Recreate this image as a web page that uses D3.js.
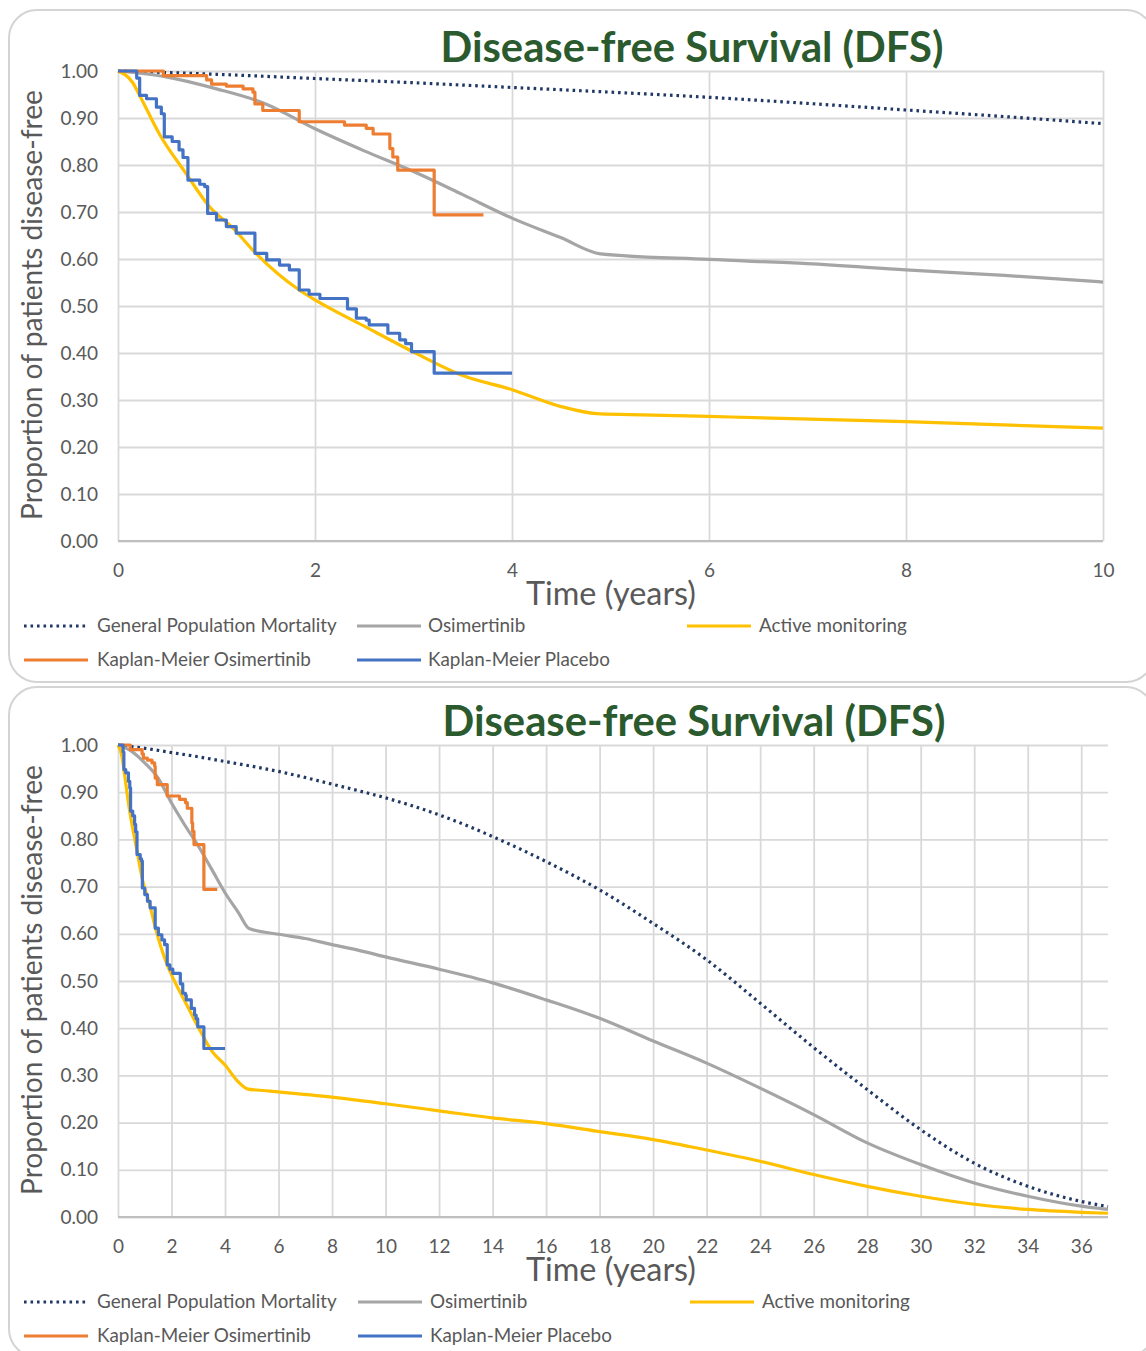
<!DOCTYPE html>
<html>
<head>
<meta charset="utf-8">
<script src="https://cdn.jsdelivr.net/npm/d3@7"></script>
<style>
  body { margin: 0; background: #fff; }
  svg { display: block; font-family: Lato, "Open Sans", sans-serif; }
</style>
</head>
<body>
<svg id="chart" width="1146" height="1351"></svg>
<script>
// General population mortality (model)
const gpTime = [0, 1, 2, 3, 4, 5, 6, 7, 8, 9, 10, 12, 14, 16, 18, 20, 22, 24, 26, 28, 30, 32, 34, 36, 37];
const gpSurv = [1.0, 0.993, 0.984, 0.975, 0.965, 0.955, 0.944, 0.931, 0.917, 0.903, 0.888, 0.852, 0.806, 0.753, 0.693, 0.622, 0.545, 0.453, 0.359, 0.27, 0.185, 0.114, 0.065, 0.033, 0.022];

// Osimertinib (model)
const osiTime = [0, 0.5, 1.0, 1.5, 2, 2.5, 3, 3.5, 4, 4.5, 4.9, 6, 7, 8, 9, 10, 12, 14, 16, 18, 20, 22, 24, 26, 28, 30, 32, 34, 36, 37];
const osiSurv = [1.0, 0.987, 0.962, 0.93, 0.877, 0.83, 0.786, 0.737, 0.687, 0.645, 0.611, 0.599, 0.59, 0.577, 0.565, 0.551, 0.525, 0.496, 0.46, 0.421, 0.373, 0.326, 0.273, 0.217, 0.157, 0.111, 0.072, 0.044, 0.023, 0.016];

// Active monitoring (model)
const amTime = [0, 0.15, 0.22, 0.42, 0.69, 0.93, 1.17, 1.4, 1.84, 2.0, 2.5, 3.0, 3.5, 4.0, 4.5, 4.86, 5.2, 6, 8, 10, 12, 14, 16, 18, 20, 22, 24, 26, 28, 30, 32, 34, 36, 37];
const amSurv = [1.0, 0.975, 0.948, 0.866, 0.782, 0.711, 0.665, 0.612, 0.534, 0.513, 0.457, 0.402, 0.352, 0.322, 0.286, 0.271, 0.269, 0.265, 0.254, 0.24, 0.225, 0.21, 0.198, 0.181, 0.164, 0.142, 0.118, 0.09, 0.065, 0.044, 0.027, 0.016, 0.01, 0.008];

// Kaplan-Meier Osimertinib (steps)
const kmOsiTime = [0, 0.46, 0.9, 0.95, 1.1, 1.27, 1.37, 1.39, 1.47, 1.84, 2.3, 2.52, 2.59, 2.76, 2.79, 2.84, 3.21, 3.71];
const kmOsiSurv = [1.0, 0.99, 0.981, 0.972, 0.968, 0.962, 0.955, 0.93, 0.916, 0.892, 0.885, 0.878, 0.866, 0.835, 0.817, 0.789, 0.694, 0.694];

// Kaplan-Meier Placebo (steps)
const kmPlaTime = [0, 0.19, 0.22, 0.29, 0.39, 0.44, 0.47, 0.55, 0.62, 0.66, 0.71, 0.83, 0.88, 0.91, 1.0, 1.1, 1.2, 1.39, 1.51, 1.64, 1.74, 1.84, 1.94, 2.05, 2.33, 2.42, 2.52, 2.55, 2.74, 2.86, 2.92, 2.98, 3.21, 4.0];
const kmPlaSurv = [1.0, 0.985, 0.948, 0.941, 0.923, 0.909, 0.86, 0.85, 0.832, 0.816, 0.768, 0.759, 0.754, 0.697, 0.683, 0.669, 0.655, 0.612, 0.598, 0.587, 0.577, 0.534, 0.525, 0.516, 0.494, 0.474, 0.47, 0.46, 0.442, 0.428, 0.42, 0.403, 0.357, 0.357];

const yTicks = [0, 0.1, 0.2, 0.3, 0.4, 0.5, 0.6, 0.7, 0.8, 0.9, 1.0];
const topXTicks = [0, 2, 4, 6, 8, 10];
const bottomXTicks = [0, 2, 4, 6, 8, 10, 12, 14, 16, 18, 20, 22, 24, 26, 28, 30, 32, 34, 36];

const titleText = "Disease-free Survival (DFS)";
const yLabel = "Proportion of patients disease-free";
const xLabel = "Time (years)";

const series = [
  { name: "General Population Mortality", t: gpTime, s: gpSurv, color: "#203864", dash: "2.6,3.9", step: false },
  { name: "Osimertinib", t: osiTime, s: osiSurv, color: "#a5a5a5", step: false },
  { name: "Active monitoring", t: amTime, s: amSurv, color: "#ffc000", step: false },
  { name: "Kaplan-Meier Osimertinib", t: kmOsiTime, s: kmOsiSurv, color: "#ed7d31", step: true },
  { name: "Kaplan-Meier Placebo", t: kmPlaTime, s: kmPlaSurv, color: "#4472c4", step: true }
];

const textGray = "#595959";
const gridColor = "#d9d9d9";
const svg = d3.select("#chart");

const fitFont = (sel, base, target) => {
  sel.style("font-size", base + "px");
  const w = sel.node().getComputedTextLength();
  const size = base * target / w;
  sel.style("font-size", size + "px");
  return size;
};

const panels = [
  {
    box: [9, 10, 1145, 672],
    xMax: 10, xTicks: topXTicks,
    plot: { left: 118, right: 1103, top: 71, bottom: 541 },
    titleX: 692, titleY: 62, axisTitleY: 605, yLabelY: 305,
    legend: [[24, 626, 97], [357, 626, 428], [687, 626, 759], [24, 660, 97], [357, 660, 428]]
  },
  {
    box: [9, 687, 1145, 670],
    xMax: 37, xTicks: bottomXTicks,
    plot: { left: 118, right: 1108, top: 745, bottom: 1217 },
    titleX: 694, titleY: 736, axisTitleY: 1281, yLabelY: 980,
    legend: [[24, 1302, 97], [358, 1302, 430], [690, 1302, 762], [24, 1336, 97], [358, 1336, 430]]
  }
];

panels.forEach(p => {
  const [bx, by, bw, bh] = p.box;
  svg.append("rect")
    .attr("x", bx).attr("y", by)
    .attr("width", bw).attr("height", bh)
    .attr("rx", 28).attr("ry", 28)
    .attr("fill", "#fff")
    .attr("stroke", "#d4d4d4")
    .attr("stroke-width", 2);

  const x = d3.scaleLinear().domain([0, p.xMax]).range([p.plot.left, p.plot.right]);
  const y = d3.scaleLinear().domain([0, 1]).range([p.plot.bottom, p.plot.top]);
  const w = p.plot.right - p.plot.left;
  const h = p.plot.bottom - p.plot.top;

  const g = svg.append("g");

  // horizontal grid + y labels
  const yAxis = g.append("g")
    .attr("transform", `translate(${p.plot.left},0)`)
    .call(d3.axisLeft(y).tickValues(yTicks).tickFormat(d3.format(".2f")).tickSize(-w).tickPadding(20));
  yAxis.select(".domain").remove();
  yAxis.selectAll("line").attr("stroke", gridColor).attr("stroke-width", 1.8);
  yAxis.selectAll("text").attr("fill", textGray).style("font-size", "19px").style("font-family", "Lato, sans-serif");

  // vertical grid + x labels
  const xAxis = g.append("g")
    .attr("transform", `translate(0,${p.plot.bottom})`)
    .call(d3.axisBottom(x).tickValues(p.xTicks).tickSize(-h).tickPadding(23));
  xAxis.select(".domain").remove();
  xAxis.selectAll("line").attr("stroke", gridColor).attr("stroke-width", 1.8);
  xAxis.selectAll("text").attr("fill", textGray).style("font-size", "19px").style("font-family", "Lato, sans-serif");

  // bottom axis line
  g.append("line")
    .attr("x1", p.plot.left).attr("x2", p.plot.right)
    .attr("y1", y(0)).attr("y2", y(0))
    .attr("stroke", "#bfbfbf").attr("stroke-width", 2.2);

  // series
  series.forEach(s => {
    const pts = d3.zip(s.t, s.s).filter(d => d[0] <= p.xMax);
    const line = d3.line()
      .x(d => x(d[0])).y(d => y(d[1]))
      .curve(s.step ? d3.curveStepAfter : d3.curveMonotoneX);
    g.append("path")
      .datum(pts)
      .attr("d", line)
      .attr("fill", "none")
      .attr("stroke", s.color)
      .attr("stroke-width", s.dash ? 3.2 : 3.2)
      .attr("stroke-dasharray", s.dash || null)
      .attr("stroke-linejoin", "round");
  });

  // title
  const title = svg.append("text")
    .attr("x", p.titleX).attr("y", p.titleY)
    .attr("text-anchor", "middle")
    .attr("fill", "#2a5a2e")
    .style("font-weight", "bold")
    .text(titleText);
  fitFont(title, 40, 503);

  // x-axis title
  const xt = svg.append("text")
    .attr("x", 611).attr("y", p.axisTitleY)
    .attr("text-anchor", "middle")
    .attr("fill", textGray)
    .text(xLabel);
  fitFont(xt, 28, 170);

  // y-axis title
  const yt = svg.append("text")
    .attr("transform", `translate(42,${p.yLabelY}) rotate(-90)`)
    .attr("text-anchor", "middle")
    .attr("fill", textGray)
    .text(yLabel);
  fitFont(yt, 24, 430);

  // legend
  let legendSize = 18;
  series.forEach((s, i) => {
    const [lx, ly, tx] = p.legend[i];
    svg.append("line")
      .attr("x1", lx).attr("x2", lx + 64)
      .attr("y1", ly).attr("y2", ly)
      .attr("stroke", s.color)
      .attr("stroke-width", 3.2)
      .attr("stroke-dasharray", s.dash || null);
    const lt = svg.append("text")
      .attr("x", tx).attr("y", ly + 6)
      .attr("fill", textGray)
      .text(s.name);
    if (i === 0) legendSize = fitFont(lt, 18, 240);
    else lt.style("font-size", legendSize + "px");
  });
});
</script>
</body>
</html>
